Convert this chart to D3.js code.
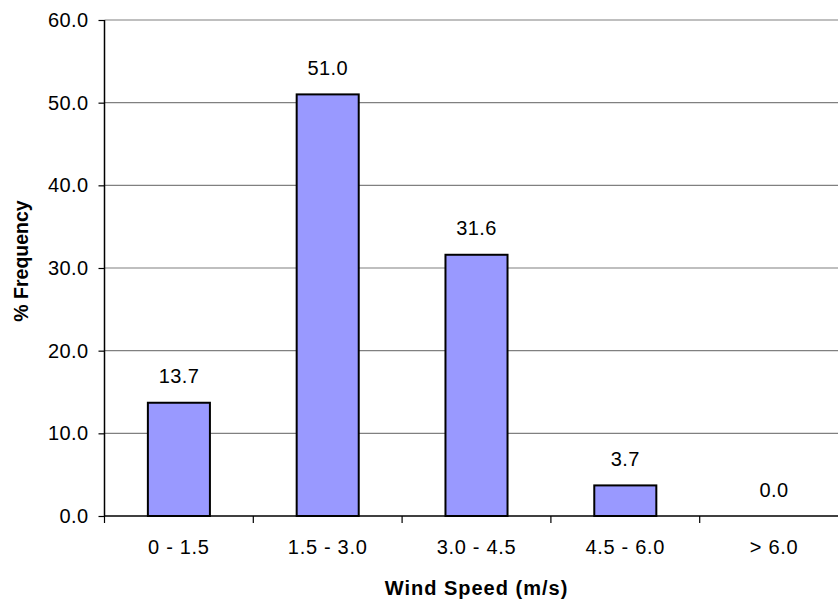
<!DOCTYPE html>
<html>
<head>
<meta charset="utf-8">
<script src="https://cdn.jsdelivr.net/npm/d3@7"></script>
<style>
  html, body { margin: 0; padding: 0; background: #fff; }
  svg { display: block; }
  text { font-family: "Liberation Sans", Arial, sans-serif; fill: #000; }
</style>
</head>
<body>
<svg id="chart" width="838" height="606"></svg>
<script>
const categories = ["0 - 1.5", "1.5 - 3.0", "3.0 - 4.5", "4.5 - 6.0", "> 6.0"];
const frequency = [13.7, 51.0, 31.6, 3.7, 0.0];
const yTicks = [0, 10, 20, 30, 40, 50, 60];
const xTitle = "Wind Speed (m/s)";
const yTitle = "% Frequency";

const svg = d3.select("#chart");
const mLeft = 104.5, mRight = 848.5, mTop = 20, mBottom = 516;

const x = d3.scaleBand().domain(categories).range([mLeft, mRight])
  .paddingInner(0.583).paddingOuter(0.2915);
const y = d3.scaleLinear().domain([0, 60]).range([mBottom, mTop]);

// gridlines
svg.append("g").selectAll("line").data(yTicks.filter(d => d > 0)).join("line")
  .attr("x1", mLeft).attr("x2", mRight)
  .attr("y1", d => y(d)).attr("y2", d => y(d))
  .attr("stroke", "#808080").attr("stroke-width", 1.2);

// bars
svg.append("g").selectAll("rect").data(frequency).join("rect")
  .attr("x", (d, i) => x(categories[i]))
  .attr("y", d => y(d))
  .attr("width", x.bandwidth())
  .attr("height", d => y(0) - y(d))
  .attr("fill", "#9999FF")
  .attr("stroke", "#000").attr("stroke-width", 2);

// value labels
svg.append("g").selectAll("text").data(frequency).join("text")
  .attr("x", (d, i) => x(categories[i]) + x.bandwidth() / 2)
  .attr("y", d => y(d) - 19.5)
  .attr("text-anchor", "middle")
  .style("font-size", "20px").style("letter-spacing", "0.4px")
  .text(d => d.toFixed(1));

// y axis
const yAxis = svg.append("g").attr("transform", `translate(${mLeft},0)`)
  .call(d3.axisLeft(y).tickValues(yTicks).tickFormat(d3.format(".1f")).tickSize(6).tickPadding(10));
yAxis.select(".domain").attr("stroke", "#000").attr("stroke-width", 1.5).attr("d", `M0,${mTop}V${mBottom}`);
yAxis.selectAll(".tick line").attr("stroke", "#000").attr("stroke-width", 1.2);
yAxis.selectAll(".tick text").style("font-size", "20px").style("letter-spacing", "0.4px")
  .attr("font-family", null).attr("fill", "#000");

// x axis
const boundaries = d3.range(categories.length + 1).map(i => mLeft + i * x.step());
const xg = svg.append("g");
xg.append("line").attr("x1", mLeft).attr("x2", mRight).attr("y1", mBottom).attr("y2", mBottom)
  .attr("stroke", "#000").attr("stroke-width", 1.5);
xg.selectAll("line.tk").data(boundaries).join("line").attr("class", "tk")
  .attr("x1", d => d).attr("x2", d => d).attr("y1", mBottom).attr("y2", mBottom + 7)
  .attr("stroke", "#000").attr("stroke-width", 1.2);
xg.selectAll("text").data(categories).join("text")
  .attr("x", d => x(d) + x.bandwidth() / 2)
  .attr("y", 554)
  .attr("text-anchor", "middle")
  .style("font-size", "20px").style("letter-spacing", "0.7px")
  .text(d => d);

// titles
svg.append("text").attr("x", (mLeft + mRight) / 2).attr("y", 595)
  .attr("text-anchor", "middle").style("font-weight", "bold")
  .style("font-size", "20px").style("letter-spacing", "1px")
  .text(xTitle);
svg.append("text").attr("transform", "translate(28,261) rotate(-90)")
  .attr("text-anchor", "middle").style("font-weight", "bold")
  .style("font-size", "19.5px")
  .text(yTitle);
</script>
</body>
</html>
